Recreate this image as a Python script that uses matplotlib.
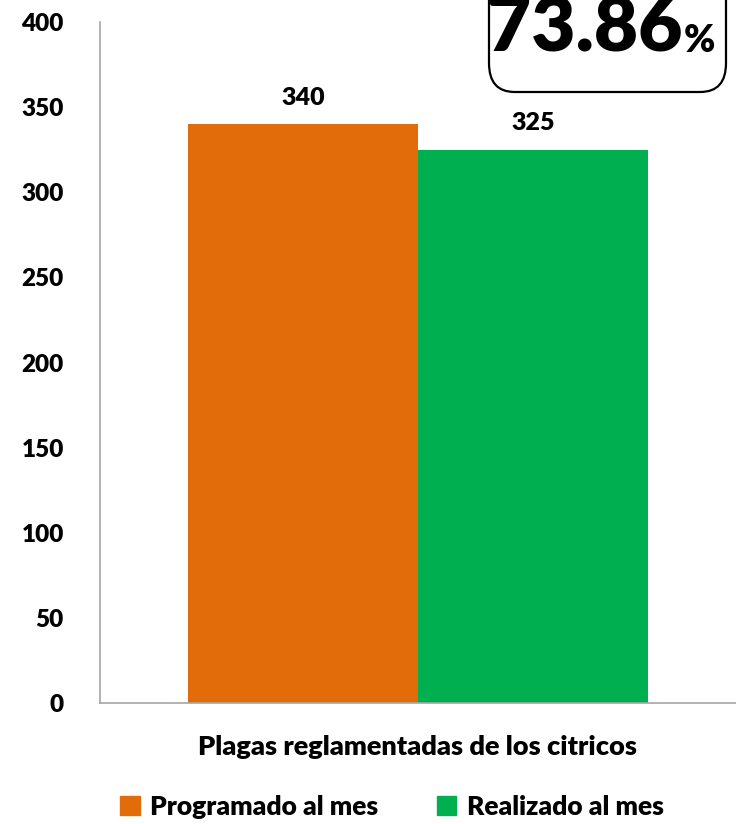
import matplotlib
matplotlib.use("Agg")
import matplotlib.pyplot as plt
from matplotlib.patches import FancyBboxPatch, Patch

categories = ["Plagas reglamentadas de los citricos"]
series_names = ["Programado al mes", "Realizado al mes"]
series_values = [340, 325]
series_colors = ["#E36C0A", "#00B050"]
yticks = [0, 50, 100, 150, 200, 250, 300, 350, 400]
percent_text = "73.86"

plt.rcParams['font.family'] = ['Lato', 'DejaVu Sans']
WT = 'heavy'

W, H = 736, 824
fig = plt.figure(figsize=(W/100, H/100), dpi=100)
ax = fig.add_axes([100/W, 1-703/H, 636/W, 681/H])

bw = 230/636
offsets = [-bw/2, bw/2]
for name, v, c, off in zip(series_names, series_values, series_colors, offsets):
    ax.bar(off, v, width=bw, color=c, label=name)
    ax.text(off, v + 9, str(v), ha='center', va='bottom', fontsize=18, fontweight=WT)

ax.set_xlim(-0.5, 0.5)
ax.set_ylim(0, 400)
ax.set_yticks(yticks)
ax.set_yticklabels([str(t) for t in yticks], fontsize=17.5, fontweight=WT)
ax.tick_params(axis='y', length=0, pad=26)
ax.set_xticks([0])
ax.set_xticklabels(categories, fontsize=19.5, fontweight=WT)
ax.tick_params(axis='x', length=0, pad=23)
for s in ['top', 'right']:
    ax.spines[s].set_visible(False)
for s in ['left', 'bottom']:
    ax.spines[s].set_color('#A6A6A6')
    ax.spines[s].set_linewidth(1.2)

handles = [Patch(color=c, label=n) for n, c in zip(series_names, series_colors)]
fig.legend(handles=handles, loc='center', bbox_to_anchor=(392/W, 1-807/H), ncol=2,
           frameon=False, handlelength=0.75, handleheight=0.75,
           columnspacing=2.2, handletextpad=0.4, prop={'weight': WT, 'size': 19})

box = FancyBboxPatch((489/W, 1-92/H), 237/W, 140/H,
                     boxstyle="round,pad=0,rounding_size=0.035",
                     transform=fig.transFigure, facecolor='white', edgecolor='black',
                     linewidth=1.6, clip_on=False)
fig.patches.append(box)
fig.text(585/W, 1-52/H, percent_text, ha='center', va='baseline', fontsize=55, fontweight=WT)
fig.text(684/W, 1-52/H, "%", ha='left', va='baseline', fontsize=27, fontweight=WT)

fig.savefig("out.png", dpi=100)
